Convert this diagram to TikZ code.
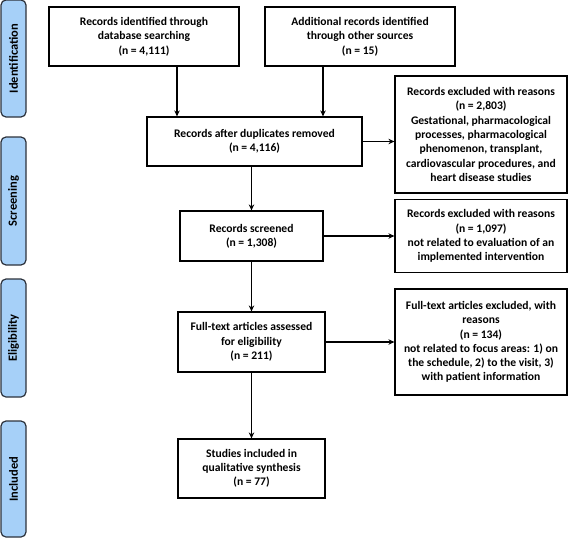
\documentclass[tikz,border=0pt]{standalone}
\usepackage{fontspec}
\setmainfont{Carlito}
\usetikzlibrary{shapes.geometric, arrows.meta}
\definecolor{stageblue}{RGB}{166,208,248}
\definecolor{stageedge}{RGB}{45,50,60}
\tikzstyle{stage} = [rectangle, rounded corners=5pt, rotate=90, minimum height=25pt, text centered, draw=stageedge, line width=1.2pt, fill=stageblue, font=\fontsize{12.5}{14}\selectfont\bfseries]
\tikzstyle{process} = [rectangle, inner sep=2pt, align=center, draw=black, line width=1.2pt, font=\fontsize{11.6}{14.3}\selectfont\bfseries]
\tikzstyle{arrow} = [line width=1.2pt,-{Stealth[length=6pt,width=5.5pt]}]

\begin{document}
\begin{tikzpicture}[node distance=2cm]
\useasboundingbox (0,0) rectangle (568pt,-538pt);

\node (ident) [stage, minimum width=117pt] at (13.5pt,-58.5pt) {Identification};
\node (screen) [stage, minimum width=128pt] at (13.5pt,-201pt) {Screening};
\node (elig) [stage, minimum width=118pt] at (13.5pt,-338pt) {Eligibility};
\node (incl) [stage, minimum width=116pt] at (13.5pt,-479pt) {Included};

\node (db) [process, minimum width=190pt, minimum height=59pt] at (144pt,-36.5pt) {Records identified through\\database searching\\(n = 4,111)};
\node (other) [process, minimum width=190pt, minimum height=59pt, node distance=216pt, right of=db] {Additional records identified\\through other sources\\(n = 15)};
\node (dup) [process, minimum width=215pt, minimum height=49pt, node distance=105pt, below of=db, xshift=110.5pt] {Records after duplicates removed\\(n = 4,116)};
\node (screened) [process, minimum width=143pt, minimum height=50pt, node distance=94.5pt, below of=dup, xshift=-3pt] {Records screened\\(n = 1,308)};
\node (fulltext) [process, minimum width=147pt, minimum height=60pt, node distance=106pt, below of=screened] {Full-text articles assessed\\for eligibility\\(n = 211)};
\node (included) [process, minimum width=147pt, minimum height=59pt, node distance=126.5pt, below of=fulltext] {Studies included in\\qualitative synthesis\\(n = 77)};
\node (excl1) [process, minimum width=172pt, minimum height=117pt, node distance=226.5pt, right of=dup, yshift=7pt] {Records excluded with reasons\\(n = 2,803)\\Gestational, pharmacological\\processes, pharmacological\\phenomenon, transplant,\\cardiovascular procedures, and\\heart disease studies};
\node (excl2) [process, minimum width=172pt, minimum height=73pt, node distance=229.5pt, right of=screened] {Records excluded with reasons\\(n = 1,097)\\not related to evaluation of an\\implemented intervention};
\node (excl3) [process, minimum width=172pt, minimum height=106pt, node distance=229.5pt, right of=fulltext] {Full-text articles excluded, with\\reasons\\(n = 134)\\not related to focus areas: 1) on\\the schedule, 2) to the visit, 3)\\with patient information};

\draw [arrow] ([xshift=33pt]db.south) -- ([xshift=-77.5pt]dup.north);
\draw [arrow] ([xshift=-37pt]other.south) -- ([xshift=68.5pt]dup.north);
\draw [arrow] (dup.east) -- (dup.east -| excl1.west);
\draw [arrow] (dup.south -| screened) -- (screened.north);
\draw [arrow] (screened.east) -- (screened.east -| excl2.west);
\draw [arrow] (screened) -- (fulltext);
\draw [arrow] (fulltext.east) -- (fulltext.east -| excl3.west);
\draw [arrow] (fulltext) -- (included);

\end{tikzpicture}
\end{document}
